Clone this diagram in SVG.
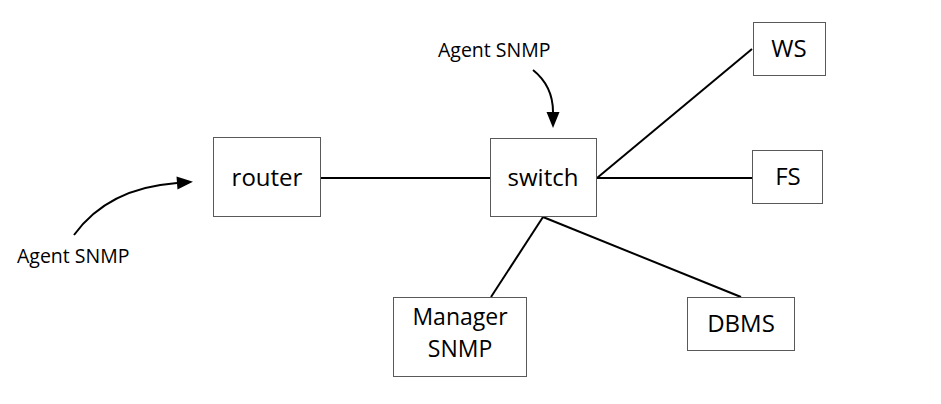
<svg xmlns="http://www.w3.org/2000/svg" width="941" height="404" viewBox="0 0 941 404">
<style>
.box{fill:#fff;stroke:#595959;stroke-width:1}
.lbl{font-family:"Open Sans","Noto Sans",sans-serif;font-size:24px;fill:#000;text-anchor:middle}
.ann{font-family:"Open Sans","Noto Sans",sans-serif;font-size:19.5px;fill:#000}
.ln{stroke:#000;stroke-width:2;fill:none}
</style>
<defs>
<marker id="ah" markerWidth="10" markerHeight="10" refX="0" refY="5" orient="auto" markerUnits="userSpaceOnUse" viewBox="0 0 10 10" overflow="visible">
<path d="M0,-1.5 L16,5 L0,11.5 Z" fill="#000"/>
</marker>
</defs>
<rect width="941" height="404" fill="#fff"/>
<g id="connectors">
<line class="ln" x1="321" y1="178" x2="490" y2="178"/>
<line class="ln" x1="597" y1="178" x2="752" y2="49"/>
<line class="ln" x1="597" y1="178" x2="752" y2="178"/>
<line class="ln" x1="543" y1="217" x2="491" y2="297"/>
<line class="ln" x1="543" y1="217" x2="741" y2="297"/>
<path class="ln" d="M74,235 Q108,188 177,183" marker-end="url(#ah)"/>
<path class="ln" d="M533,70 Q553,86 553,112" marker-end="url(#ah)"/>
</g>
<g id="router"><rect class="box" x="213.5" y="137.5" width="107" height="79"/><text class="lbl" x="267" y="186">router</text></g>
<g id="switch"><rect class="box" x="490.5" y="138.5" width="106" height="78"/><text class="lbl" x="543" y="186">switch</text></g>
<g id="ws"><rect class="box" x="753.5" y="22.5" width="72" height="53"/><text class="lbl" x="789" y="57">WS</text></g>
<g id="fs"><rect class="box" x="752.5" y="150.5" width="70" height="53"/><text class="lbl" x="788" y="185">FS</text></g>
<g id="manager"><rect class="box" x="393.5" y="297.5" width="133" height="79"/><text class="lbl" x="460" y="325" style="font-size:23px">Manager</text><text class="lbl" x="460" y="357" style="font-size:23px">SNMP</text></g>
<g id="dbms"><rect class="box" x="687.5" y="297.5" width="107" height="53"/><text class="lbl" x="741" y="332">DBMS</text></g>
<g id="labels">
<text class="ann" x="17" y="263">Agent SNMP</text>
<text class="ann" x="438" y="57">Agent SNMP</text>
</g>
</svg>
